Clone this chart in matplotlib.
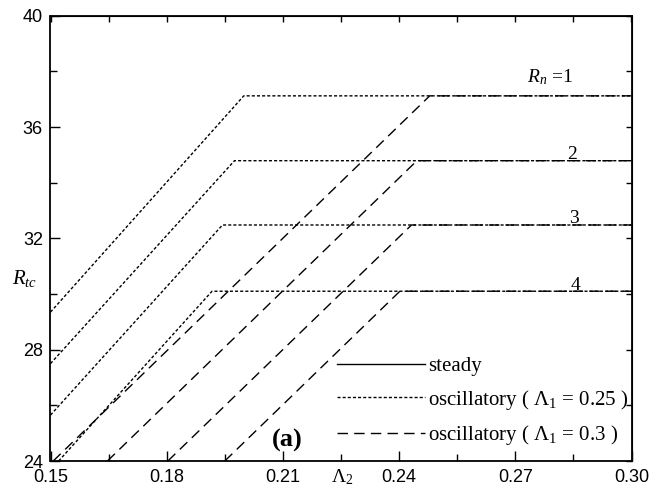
import numpy as np
import matplotlib
matplotlib.use("Agg")
import matplotlib.pyplot as plt
from matplotlib.lines import Line2D
from matplotlib.ticker import MultipleLocator

plt.rcParams["mathtext.fontset"] = "custom"
plt.rcParams["mathtext.rm"] = "Liberation Serif"
plt.rcParams["mathtext.it"] = "Liberation Serif:italic"
plt.rcParams["mathtext.bf"] = "Liberation Serif:bold"

#  Data 
RN          = [1, 2, 3, 4]
STEADY_RC   = [37.12, 34.79, 32.48, 30.10]
L2_MAX      = 0.30

# oscillatory branch, Lambda1 = 0.25: entry point and point where it meets the steady value
OSC25_L2_START = [0.1500, 0.1500, 0.1500, 0.1521]
OSC25_RC_START = [29.35, 27.50, 25.65, 24.00]
OSC25_L2_KINK  = [0.1999, 0.1975, 0.1944, 0.1917]

# oscillatory branch, Lambda1 = 0.3
OSC30_L2_START = [0.1507, 0.1647, 0.1803, 0.1950]
OSC30_RC_START = [24.00, 24.00, 24.00, 24.00]
OSC30_L2_KINK  = [0.2479, 0.2446, 0.2432, 0.2402]

XTICKS = [0.15, 0.18, 0.21, 0.24, 0.27, 0.30]
YTICKS = [24, 28, 32, 36, 40]

SERIF = "Liberation Serif"
SANS  = "Liberation Sans"

DOT  = (0, (2.2, 1.5))
DASH = (0, (7.5, 4.5))

#  Plot 
fig = plt.figure(figsize=(6.63, 4.96), dpi=100)
ax = fig.add_axes([50.5 / 663, 1 - 461 / 496, 581 / 663, 445.3 / 496])

for i in range(len(RN)):
    ax.plot([OSC25_L2_START[i], OSC25_L2_KINK[i], L2_MAX],
            [OSC25_RC_START[i], STEADY_RC[i], STEADY_RC[i]],
            color="black", lw=1.0, linestyle=DOT)
    ax.plot([OSC30_L2_START[i], OSC30_L2_KINK[i], L2_MAX],
            [OSC30_RC_START[i], STEADY_RC[i], STEADY_RC[i]],
            color="black", lw=1.0, linestyle=DASH)

# curve labels
ax.text(0.2790, STEADY_RC[0] + 0.47, r"$R_n$ =1", fontsize=14, family=SERIF,
        ha="center", va="baseline")
for i in range(1, len(RN)):
    ax.text(0.2843 + 0.0004 * i, STEADY_RC[i] + 0.06, str(RN[i]), fontsize=14,
            family=SERIF, ha="center", va="baseline")

ax.text(0.211, 24.75, "(a)", fontsize=19, family=SERIF, fontweight="bold",
        ha="center", va="center")

# axes
ax.set_xlim(0.15, 0.30)
ax.set_ylim(24, 40)
ax.set_xticks(XTICKS)
ax.set_xticklabels([f"{t:.2f}" for t in XTICKS])
ax.set_yticks(YTICKS)
ax.xaxis.set_minor_locator(MultipleLocator(0.015))
ax.yaxis.set_minor_locator(MultipleLocator(2))
ax.tick_params(which="major", direction="in", length=7, width=1.0,
               labelsize=13, pad=5.5)
ax.tick_params(which="minor", direction="in", length=5, width=1.0)
ax.tick_params(axis="y", which="major", pad=5.5)
for lab in ax.get_xticklabels() + ax.get_yticklabels():
    lab.set_family(SANS)
for sp in ax.spines.values():
    sp.set_linewidth(1.3)

top = ax.secondary_xaxis("top")
top.set_xticks(np.arange(0.15, 0.3001, 0.015))
top.tick_params(direction="in", length=4, width=1.0, labeltop=False)
right = ax.secondary_yaxis("right")
right.set_yticks(np.arange(24, 40.01, 2))
right.tick_params(direction="in", length=4, width=1.0, labelright=False)

ax.text(0.2253, -0.047, r"$\Lambda_2$", transform=ax.get_xaxis_transform(),
        fontsize=14, ha="center", va="baseline")
ax.text(-0.044, 30.54, r"$R_{tc}$", transform=ax.get_yaxis_transform(),
        fontsize=15, ha="center", va="center")

# legend
handles = [
    Line2D([], [], color="black", lw=1.0, linestyle="-"),
    Line2D([], [], color="black", lw=1.0, linestyle=DOT),
    Line2D([], [], color="black", lw=1.0, linestyle=DASH),
]
labels = [
    "steady",
    r"oscillatory ( $\Lambda_1$ = 0.25 )",
    r"oscillatory ( $\Lambda_1$ = 0.3 )",
]
ax.legend(handles, labels, loc="center left", bbox_to_anchor=(0.4935, 0.1325),
          frameon=False, prop={"family": SERIF, "size": 15},
          handlelength=4.2, handletextpad=0.15, labelspacing=0.55,
          borderpad=0, borderaxespad=0)

fig.savefig("out.png", dpi=100)
